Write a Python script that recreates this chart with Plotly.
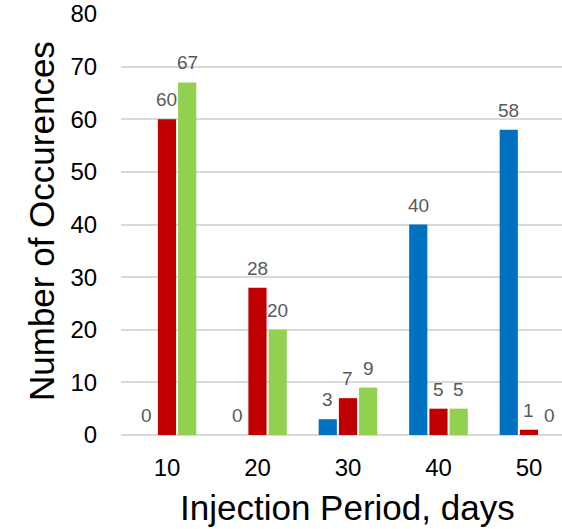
import plotly.graph_objects as go

periods = ["10", "20", "30", "40", "50"]
blue_vals = [0, 0, 3, 40, 58]
red_vals = [60, 28, 7, 5, 1]
green_vals = [67, 20, 9, 5, 0]
y_ticks = [0, 10, 20, 30, 40, 50, 60, 70, 80]

FONT = "Liberation Sans, Arial, sans-serif"
W, H = 562, 529
ML, MR, MT, MB = 121, 0, 14, 94
BARGAP = 0.33

series = [(blue_vals, "#0070C0"), (red_vals, "#C00000"), (green_vals, "#92D050")]
xs = list(range(len(periods)))
slot = (1 - BARGAP) / len(series)

fig = go.Figure()
annotations = []
for k, (vals, color) in enumerate(series):
    fig.add_trace(go.Bar(
        x=xs, y=vals, marker=dict(color=color, line=dict(width=0)),
        showlegend=False, hoverinfo="x+y",
    ))
    off = (k - (len(series) - 1) / 2) * slot
    for i, v in zip(xs, vals):
        annotations.append(dict(
            x=i + off, y=v, xref="x", yref="y", text=str(v), showarrow=False,
            yanchor="bottom", xanchor="center", yshift=7,
            font=dict(size=19, color="#595959", family=FONT),
        ))

plot_w = W - ML - MR
plot_h = H - MT - MB
annotations.append(dict(
    text="Injection Period, days", xref="paper", yref="paper",
    x=(347 - ML) / plot_w, y=-(508 - (H - MB)) / plot_h,
    xanchor="center", yanchor="middle", showarrow=False,
    font=dict(size=35, color="black", family=FONT),
))
annotations.append(dict(
    text="Number of Occurences", xref="paper", yref="paper",
    x=(41 - ML) / plot_w, y=1 - (221 - MT) / plot_h, textangle=-90,
    xanchor="center", yanchor="middle", showarrow=False,
    font=dict(size=35, color="black", family=FONT),
))

fig.update_layout(
    width=W, height=H,
    margin=dict(l=ML, r=MR, t=MT, b=MB),
    paper_bgcolor="white", plot_bgcolor="white",
    barmode="group", bargap=BARGAP, bargroupgap=0.1,
    font=dict(family=FONT, color="black"),
    annotations=annotations,
    xaxis=dict(
        range=[-0.508, 4.365], tickvals=xs, ticktext=periods,
        tickfont=dict(size=24), showgrid=False, zeroline=False,
        ticks="outside", ticklen=11, tickcolor="rgba(0,0,0,0)",
    ),
    yaxis=dict(
        range=[0, 80], tickvals=y_ticks, tickfont=dict(size=24),
        showgrid=True, gridcolor="#D9D9D9", gridwidth=2,
        zeroline=True, zerolinecolor="#D9D9D9", zerolinewidth=2,
        ticks="outside", ticklen=18, tickcolor="rgba(0,0,0,0)",
    ),
)
fig.write_html("out.html")
